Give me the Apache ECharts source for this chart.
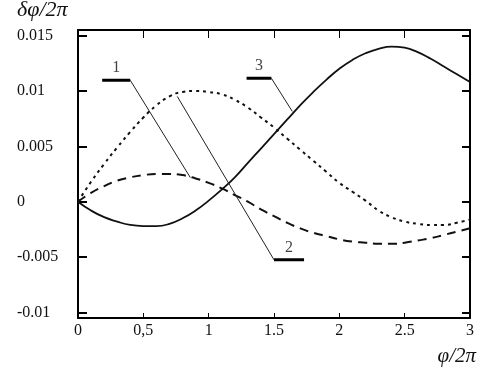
<!DOCTYPE html>
<html>
<head>
<meta charset="utf-8">
<script src="https://cdn.jsdelivr.net/npm/echarts@6/dist/echarts.min.js"></script>
<style>html,body{margin:0;padding:0;background:#fff}#c{width:482px;height:372px}</style>
</head>
<body>
<div id="c"></div>
<script>
// Data
var xValues = [0,0.1,0.2,0.3,0.4,0.5,0.6,0.7,0.8,0.9,1.0,1.1,1.2,1.3,1.4,1.5,1.6,1.7,1.8,1.9,2.0,2.1,2.2,2.3,2.4,2.5,2.6,2.7,2.8,2.9,3.0];
var curve1 = [0,0.0008,0.0014,0.0019,0.0022,0.0024,0.0025,0.0025,0.0024,0.0021,0.0017,0.0012,0.0006,0.0000,-0.0007,-0.0013,-0.0019,-0.0024,-0.0028,-0.0031,-0.0034,-0.0036,-0.0037,-0.0038,-0.0038,-0.0037,-0.0035,-0.0033,-0.0030,-0.0027,-0.0024];
var curve2 = [0,0.0018,0.0034,0.0049,0.0063,0.0076,0.0087,0.0095,0.0099,0.0100,0.0099,0.0097,0.0092,0.0085,0.0076,0.0067,0.0057,0.0047,0.0037,0.0027,0.0017,0.0009,0.0001,-0.0008,-0.0014,-0.0018,-0.0020,-0.0021,-0.0021,-0.0019,-0.0016];
var curve3 = [0,-0.0008,-0.0014,-0.0018,-0.0021,-0.0022,-0.0022,-0.0020,-0.0015,-0.0008,0.0001,0.0011,0.0022,0.0035,0.0048,0.0061,0.0074,0.0087,0.0099,0.0110,0.0120,0.0128,0.0134,0.0138,0.0140,0.0139,0.0135,0.0129,0.0122,0.0115,0.0108];
var xTicks = [0,0.5,1,1.5,2,2.5,3];
var xTickLabels = {0:'0',0.5:'0,5',1:'1',1.5:'1.5',2:'2',2.5:'2.5',3:'3'};
var yTicks = [-0.01,-0.005,0,0.005,0.01,0.015];
var yTickLabels = {'-0.01':'-0.01','-0.005':'-0.005','0':'0','0.005':'0.005','0.01':'0.01','0.015':'0.015'};
// Annotation leaders in data coordinates
var labelNames = ['1','2','3'];
var barStarts = [[0.185,0.01096],[1.50,-0.00525],[1.29,0.01114]];
var barEnds = [[0.40,0.01096],[1.73,-0.00525],[1.48,0.01114]];
var leaderTargets = [[0.86,0.00217],[0.76,0.0095],[1.64,0.00815]];
var leaderFrom = [[0.40,0.01096],[1.50,-0.00525],[1.48,0.01114]];

function zip(xs, ys){ return xs.map(function(x,i){return [x, ys[i]];}); }

var serif = 'Liberation Serif';
var series = [
  {type:'line', data: zip(xValues, curve1), showSymbol:false, smooth:true, lineStyle:{color:'#111', width:2, type:[9,6]}, z:3},
  {type:'line', data: zip(xValues, curve2), showSymbol:false, smooth:true, lineStyle:{color:'#111', width:2, type:[3,4]}, z:3},
  {type:'line', data: zip(xValues, curve3), showSymbol:false, smooth:true, lineStyle:{color:'#111', width:1.8}, z:3}
];
for (var i=0;i<labelNames.length;i++){
  series.push({type:'line', data:[barStarts[i], barEnds[i]], showSymbol:false, lineStyle:{color:'#000', width:3}, z:4});
  series.push({type:'line', data:[leaderFrom[i], leaderTargets[i]], showSymbol:false, lineStyle:{color:'#222', width:1}, z:4});
  series.push({type:'scatter', symbolSize:0, z:5,
    data:[[ (barStarts[i][0]+barEnds[i][0])/2, barStarts[i][1] ]],
    label:{show:true, formatter: labelNames[i], position:'top', distance:4, color:'#111', fontFamily:serif, fontSize:16}});
}

var chart = echarts.init(document.getElementById('c'));
chart.setOption({
  animation:false,
  backgroundColor:'#fff',
  grid:{left:78, right:12, top:30, bottom:54},
  xAxis:[{
    type:'value', min:0, max:3, interval:0.5, position:'bottom',
    axisLine:{show:true, onZero:false, lineStyle:{color:'#000', width:2}},
    axisTick:{show:true, inside:true, length:5, customValues:[0.5,1,1.5,2,2.5], lineStyle:{color:'#000', width:1}},
    axisLabel:{customValues:xTicks, formatter:function(v){return xTickLabels[v]!==undefined?xTickLabels[v]:v;}, color:'#111', fontFamily:serif, fontSize:16, margin:5},
    splitLine:{show:false}
  },{
    type:'value', min:0, max:3, interval:0.5, position:'top',
    axisLine:{show:true, onZero:false, lineStyle:{color:'#000', width:2}},
    axisTick:{show:true, inside:true, length:8, customValues:[0.5,1,1.5,2,2.5], lineStyle:{color:'#000', width:1}},
    axisLabel:{show:false}, splitLine:{show:false}
  }],
  yAxis:[{
    type:'value', min:-0.0105, max:0.0155, position:'left',
    axisLine:{show:true, onZero:false, lineStyle:{color:'#000', width:2}},
    axisTick:{show:true, inside:true, length:9, customValues:yTicks, lineStyle:{color:'#000', width:2}},
    axisLabel:{customValues:yTicks, formatter:function(v){var k=String(+v.toFixed(4)); return yTickLabels[k]!==undefined?yTickLabels[k]:k;}, align:'left', margin:61, color:'#111', fontFamily:serif, fontSize:16},
    splitLine:{show:false}
  },{
    type:'value', min:-0.0105, max:0.0155, position:'right',
    axisLine:{show:true, onZero:false, lineStyle:{color:'#000', width:2}},
    axisTick:{show:true, inside:true, length:8, customValues:yTicks, lineStyle:{color:'#000', width:2}},
    axisLabel:{show:false}, splitLine:{show:false}
  }],
  graphic:[
    {type:'text', left:17, top:-1, style:{text:'δφ/2π', font:'italic 22px "Liberation Serif"', fill:'#111'}},
    {type:'text', right:6, top:346, style:{text:'φ/2π', font:'italic 21px "Liberation Serif"', fill:'#111'}}
  ],
  series: series
});
</script>
</body>
</html>
